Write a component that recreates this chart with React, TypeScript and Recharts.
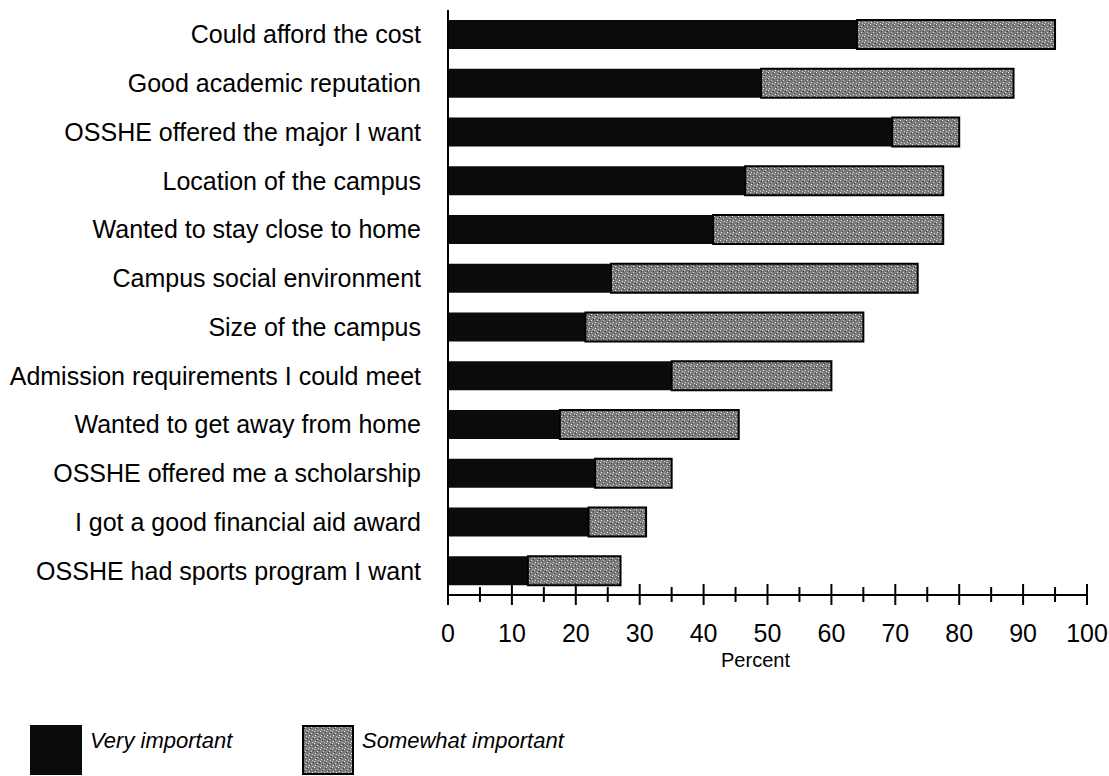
import { Bar, BarChart, Label, XAxis, YAxis } from "recharts";

const categories = [
  "Could afford the cost",
  "Good academic reputation",
  "OSSHE offered the major I want",
  "Location of the campus",
  "Wanted to stay close to home",
  "Campus social environment",
  "Size of the campus",
  "Admission requirements I could meet",
  "Wanted to get away from home",
  "OSSHE offered me a scholarship",
  "I got a good financial aid award",
  "OSSHE had sports program I want",
];
const veryImportant = [64, 49, 69.5, 46.5, 41.5, 25.5, 21.5, 35, 17.5, 23, 22, 12.5];
const somewhatImportant = [31, 39.5, 10.5, 31, 36, 48, 43.5, 25, 28, 12, 9, 14.5];
const xTicks = [0, 5, 10, 15, 20, 25, 30, 35, 40, 45, 50, 55, 60, 65, 70, 75, 80, 85, 90, 95, 100];

const data = categories.map((name, i) => ({ name, very: veryImportant[i], somewhat: somewhatImportant[i] }));

const font = "'Liberation Sans', Arial, Helvetica, sans-serif";

if (typeof document !== "undefined") {
  document.body.style.margin = "0";
  document.body.style.overflow = "hidden";
}

// ticks cross the axis line, labels only on the tens
function XTick({ x, y, payload }: any) {
  const major = payload.value % 10 === 0;
  return (
    <g>
      <line x1={x} x2={x} y1={major ? y - 11 : y - 8} y2={major ? y + 10 : y + 7} stroke="#000" strokeWidth={2} />
      {major && (
        <text x={x} y={y + 47} textAnchor="middle" fontSize={25} fill="#000" fontFamily={font}>
          {payload.value}
        </text>
      )}
    </g>
  );
}

function PercentLabel({ viewBox }: any) {
  const { x, y, width } = viewBox;
  return (
    <text x={x + width / 2 - 12} y={y + 72} textAnchor="middle" fontSize={20} fill="#000" fontFamily={font}>
      Percent
    </text>
  );
}

export default function App() {
  return (
    <div style={{ position: "relative", width: 1109, height: 776, background: "#fff", fontFamily: font, overflow: "visible" }}>
      <BarChart width={1109} height={776} data={data} layout="vertical" margin={{ top: 10, right: 22, bottom: 121, left: 0 }} barSize={29} style={{ overflow: "visible" }}>
        <defs>
          <pattern id="speckle" width="6" height="6" patternUnits="userSpaceOnUse">
            <rect width="6" height="6" fill="#7a7a7a" />
            <rect x="0" y="0" width="1" height="1" fill="#e8e8e8" />
            <rect x="3" y="2" width="1" height="1" fill="#dcdcdc" />
            <rect x="1" y="4" width="1" height="1" fill="#f0f0f0" />
            <rect x="4" y="5" width="1" height="1" fill="#d0d0d0" />
            <rect x="5" y="1" width="1" height="1" fill="#3a3a3a" />
            <rect x="2" y="3" width="1" height="1" fill="#444" />
          </pattern>
        </defs>
        <XAxis
          type="number"
          domain={[0, 100]}
          ticks={xTicks}
          interval={0}
          height={60}
          tick={<XTick />}
          tickLine={false}
          tickSize={0}
          tickMargin={0}
          axisLine={{ stroke: "#000", strokeWidth: 2 }}
        >
          <Label content={<PercentLabel />} />
        </XAxis>
        <YAxis
          type="category"
          dataKey="name"
          width={448}
          tickLine={false}
          tickSize={0}
          tickMargin={27}
          axisLine={{ stroke: "#000", strokeWidth: 2 }}
          tick={{ fontSize: 25, fill: "#000", fontFamily: font }}
          interval={0}
        />
        <Bar dataKey="very" stackId="a" fill="#0b0b0b" isAnimationActive={false} />
        <Bar dataKey="somewhat" stackId="a" fill="url(#speckle)" stroke="#000" strokeWidth={2} isAnimationActive={false} />
      </BarChart>
      <div style={{ position: "absolute", left: 30, top: 725, display: "flex", alignItems: "center" }}>
        <div style={{ width: 52, height: 50, background: "#0b0b0b" }} />
        <span style={{ marginLeft: 8, marginTop: -18, fontSize: 22, fontStyle: "italic" }}>Very important</span>
      </div>
      <div style={{ position: "absolute", left: 302, top: 725, display: "flex", alignItems: "center" }}>
        <svg width={52} height={50}>
          <rect x={1} y={1} width={50} height={48} fill="url(#speckle)" stroke="#000" strokeWidth={2} />
        </svg>
        <span style={{ marginLeft: 8, marginTop: -18, fontSize: 22, fontStyle: "italic" }}>Somewhat important</span>
      </div>
    </div>
  );
}
